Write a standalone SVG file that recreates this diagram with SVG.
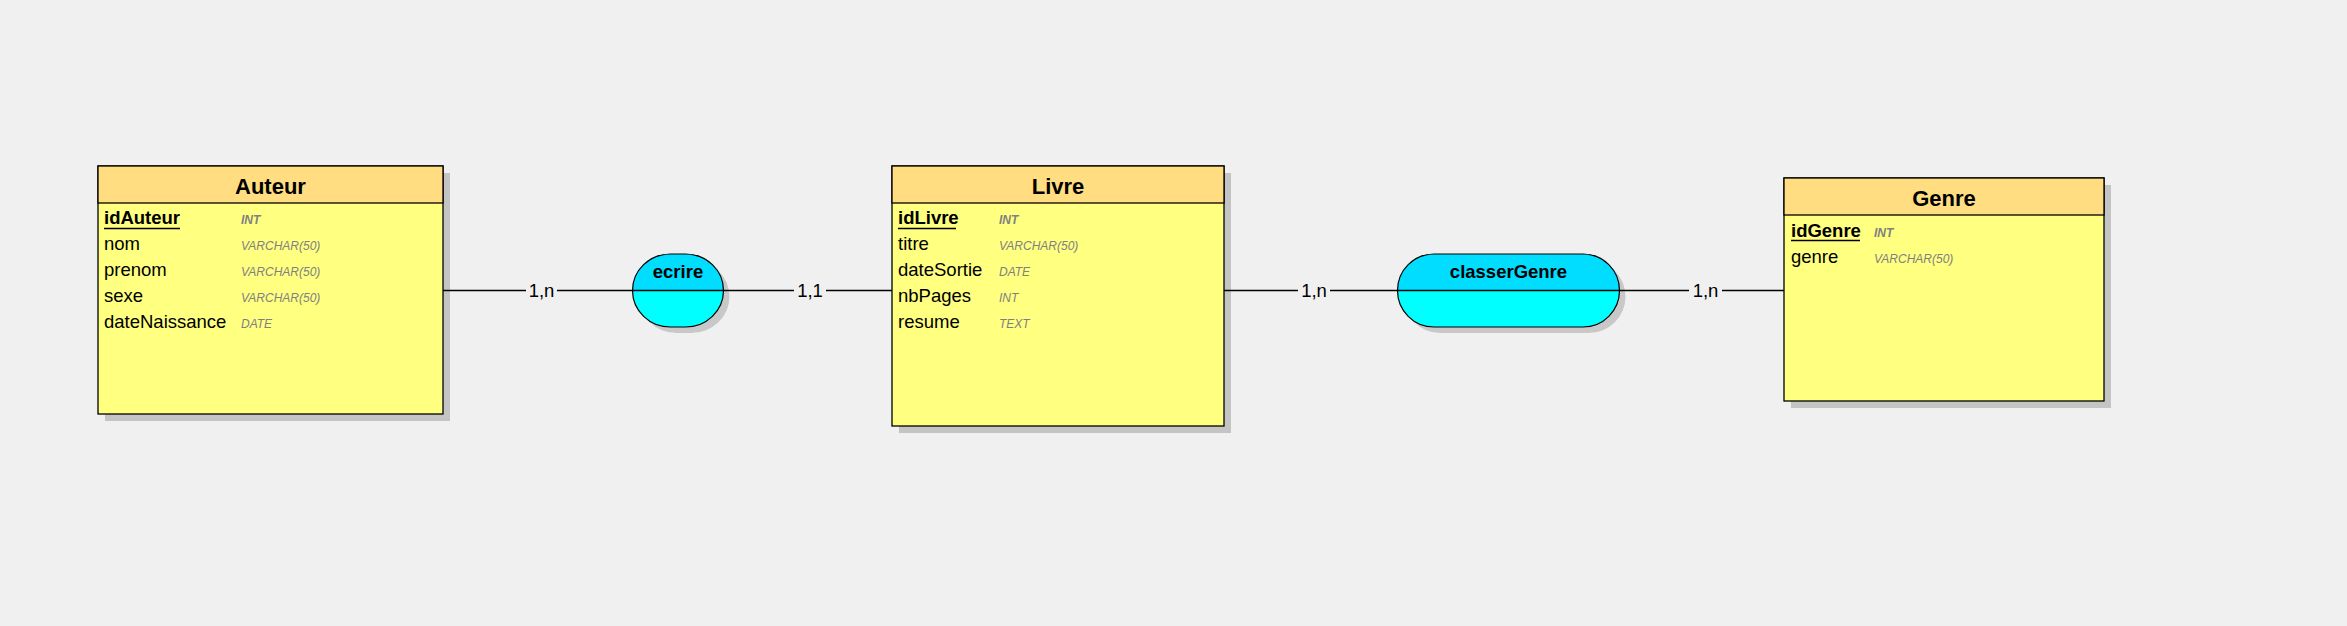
<svg xmlns="http://www.w3.org/2000/svg" width="2347" height="626" viewBox="0 0 2347 626">
<style>
.bg{fill:#f0f0f0}
.shadow{fill:#c4c4c4}
.ashadow{fill:#c8c8c8}
.hdr{fill:#ffdd80;stroke:#000;stroke-width:1.3}
.body{fill:#ffff80;stroke:#000;stroke-width:1.3}
.title{font-family:"Liberation Sans",Arial,sans-serif;font-size:22px;font-weight:bold;fill:#000;text-anchor:middle}
.fld{font-family:"Liberation Sans",Arial,sans-serif;font-size:18.5px;fill:#000}
.key{font-weight:bold}
.typ{font-family:"Liberation Sans",Arial,sans-serif;font-size:12px;font-style:italic;fill:#808080}
.ktyp{font-weight:bold}
.ul{stroke:#000;stroke-width:1.5}
.alow{fill:#00ffff}
.aup{fill:#00ddff}
.aout{fill:none;stroke:#000;stroke-width:1.2}
.aname{font-family:"Liberation Sans",Arial,sans-serif;font-size:18.5px;font-weight:bold;fill:#000;text-anchor:middle}
.link{stroke:#000;stroke-width:1.3;fill:none}
.card{font-family:"Liberation Sans",Arial,sans-serif;font-size:18.5px;fill:#000;text-anchor:middle}
.cbg{fill:#f0f0f0}
</style>
<rect class="bg" x="0" y="0" width="2347" height="626"/>

<g id="Auteur">
<rect class="shadow" x="105" y="173" width="345" height="248"/>
<rect class="body" x="98" y="166" width="345" height="248"/>
<rect class="hdr" x="98" y="166" width="345" height="37"/>
<text class="title" x="270.5" y="194">Auteur</text>
<text class="fld key" x="104" y="224">idAuteur</text>
<line class="ul" x1="104" y1="228.5" x2="180" y2="228.5"/>
<text class="typ ktyp" x="241" y="224">INT</text>
<text class="fld" x="104" y="250">nom</text>
<text class="typ" x="241" y="250">VARCHAR(50)</text>
<text class="fld" x="104" y="276">prenom</text>
<text class="typ" x="241" y="276">VARCHAR(50)</text>
<text class="fld" x="104" y="302">sexe</text>
<text class="typ" x="241" y="302">VARCHAR(50)</text>
<text class="fld" x="104" y="328">dateNaissance</text>
<text class="typ" x="241" y="328">DATE</text>
</g>

<g id="ecrire">
<rect class="ashadow" x="638.5" y="260" width="91" height="73" rx="38" ry="36.5"/>
<rect class="alow" x="632.5" y="254" width="91" height="73" rx="38" ry="36.5"/>
<path class="aup" d="M670.5,254 H685.5 A38,36.5 0 0 1 723.5,290.5 H632.5 A38,36.5 0 0 1 670.5,254 Z"/>
<rect class="aout" x="632.5" y="254" width="91" height="73" rx="38" ry="36.5"/>
<line class="link" x1="632.5" y1="290.5" x2="723.5" y2="290.5"/>
<text class="aname" x="678" y="278">ecrire</text>
</g>

<g id="Livre">
<rect class="shadow" x="899" y="173" width="332" height="260"/>
<rect class="body" x="892" y="166" width="332" height="260"/>
<rect class="hdr" x="892" y="166" width="332" height="37"/>
<text class="title" x="1058" y="194">Livre</text>
<text class="fld key" x="898" y="224">idLivre</text>
<line class="ul" x1="898" y1="228.5" x2="956" y2="228.5"/>
<text class="typ ktyp" x="999" y="224">INT</text>
<text class="fld" x="898" y="250">titre</text>
<text class="typ" x="999" y="250">VARCHAR(50)</text>
<text class="fld" x="898" y="276">dateSortie</text>
<text class="typ" x="999" y="276">DATE</text>
<text class="fld" x="898" y="302">nbPages</text>
<text class="typ" x="999" y="302">INT</text>
<text class="fld" x="898" y="328">resume</text>
<text class="typ" x="999" y="328">TEXT</text>
</g>

<g id="classerGenre">
<rect class="ashadow" x="1403.5" y="260" width="222" height="73" rx="36.5" ry="36.5"/>
<rect class="alow" x="1397.5" y="254" width="222" height="73" rx="36.5" ry="36.5"/>
<path class="aup" d="M1434,254 H1583 A36.5,36.5 0 0 1 1619.5,290.5 H1397.5 A36.5,36.5 0 0 1 1434,254 Z"/>
<rect class="aout" x="1397.5" y="254" width="222" height="73" rx="36.5" ry="36.5"/>
<line class="link" x1="1397.5" y1="290.5" x2="1619.5" y2="290.5"/>
<text class="aname" x="1508.5" y="278">classerGenre</text>
</g>

<g id="Genre">
<rect class="shadow" x="1791" y="185" width="320" height="223"/>
<rect class="body" x="1784" y="178" width="320" height="223"/>
<rect class="hdr" x="1784" y="178" width="320" height="37"/>
<text class="title" x="1944" y="206">Genre</text>
<text class="fld key" x="1791" y="236.5">idGenre</text>
<line class="ul" x1="1791" y1="240.5" x2="1860" y2="240.5"/>
<text class="typ ktyp" x="1874" y="236.5">INT</text>
<text class="fld" x="1791" y="262.5">genre</text>
<text class="typ" x="1874" y="262.5">VARCHAR(50)</text>
</g>

<g id="connectors">
<line class="link" x1="443" y1="290.5" x2="632.5" y2="290.5"/>
<line class="link" x1="723.5" y1="290.5" x2="892" y2="290.5"/>
<line class="link" x1="1224" y1="290.5" x2="1397.5" y2="290.5"/>
<line class="link" x1="1619.5" y1="290.5" x2="1784" y2="290.5"/>
<rect class="cbg" x="526" y="280" width="31" height="22"/>
<text class="card" x="541.5" y="297">1,n</text>
<rect class="cbg" x="794" y="280" width="32" height="22"/>
<text class="card" x="810" y="297">1,1</text>
<rect class="cbg" x="1298" y="280" width="32" height="22"/>
<text class="card" x="1314" y="297">1,n</text>
<rect class="cbg" x="1689" y="280" width="33" height="22"/>
<text class="card" x="1705.5" y="297">1,n</text>
</g>
</svg>
